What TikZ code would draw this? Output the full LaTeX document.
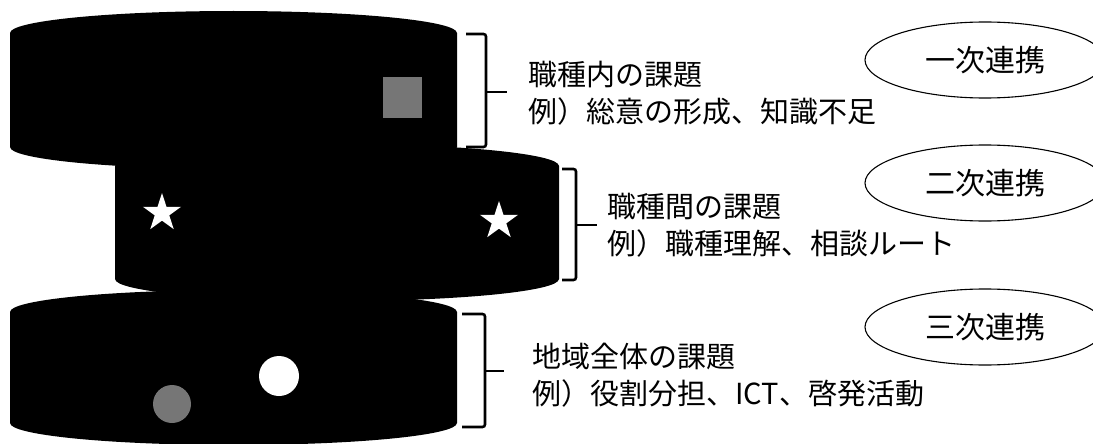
\documentclass[tikz,border=0pt]{standalone}
\usepackage{fontspec}
\newfontfamily\jp{Noto Sans CJK JP}
\usetikzlibrary{shapes.geometric}
\definecolor{speckle}{RGB}{118,118,118}
\tikzset{
  disk/.style={fill=black},
  brace/.style={draw=black, line width=2.6pt, rounded corners=2.5pt},
  issue/.style={anchor=west, align=left, inner sep=0pt, font=\jp\fontsize{29}{37}\selectfont},
  renkei/.style={draw=black, ellipse, line width=1.1pt, minimum width=240pt, minimum height=76pt, inner sep=0pt, font=\jp\fontsize{30}{36}\selectfont},
  whitestar/.style={star, star points=5, star point ratio=2.618, fill=white, minimum size=40pt, inner sep=0pt},
  dot/.style={circle, inner sep=0pt},
}
\begin{document}
\begin{tikzpicture}[x=1pt, y=-1pt]
\useasboundingbox (0,0) rectangle (1093,444);
\fill[white] (0,0) rectangle (1093,444);
% bottom disk
\fill[disk] (10,312) arc[start angle=180, end angle=0, x radius=223.5pt, y radius=22pt]
  -- (457,423) arc[start angle=0, end angle=-180, x radius=223.5pt, y radius=22pt] -- cycle;
% middle disk
\fill[disk] (115,166) arc[start angle=180, end angle=0, x radius=222pt, y radius=22pt]
  -- (559,279) arc[start angle=0, end angle=-180, x radius=222pt, y radius=22pt] -- cycle;
% top disk
\fill[disk] (10,33) arc[start angle=180, end angle=0, x radius=223.5pt, y radius=22pt]
  -- (457,147) arc[start angle=0, end angle=-180, x radius=223.5pt, y radius=22pt] -- cycle;
% marks
\fill[speckle] (383,77) rectangle (422,118);
\node[whitestar] (s1) at (162,213) {};
\node[whitestar] (s2) at (499,221) {};
\node[dot, fill=white, minimum size=40pt] (c1) at (279,376) {};
\node[dot, fill=speckle, minimum size=38pt] (c2) at (172,404) {};
% braces
\draw[brace] (466,34) -- (486,34) -- (486,147) -- (466,147);
\draw[brace] (486,92) -- (507,92);
\draw[brace] (562,169) -- (576,169) -- (576,280) -- (562,280);
\draw[brace] (576,225) -- (597,225);
\draw[brace] (462,314) -- (485,314) -- (485,427) -- (462,427);
\draw[brace] (485,371) -- (504,371);
% texts
\node[issue] (t1) at (528,93.5) {職種内の課題\\例）総意の形成、知識不足};
\node[issue] (t2) at (607,225.5) {職種間の課題\\例）職種理解、相談ルート};
\node[issue] (t3) at (532,375) {地域全体の課題\\例）役割分担、ICT、啓発活動};
% ellipses
\node[renkei] (e1) at (985,60) {一次連携};
\node[renkei] (e2) at (985,183) {二次連携};
\node[renkei] (e3) at (985,327) {三次連携};
\end{tikzpicture}
\end{document}
